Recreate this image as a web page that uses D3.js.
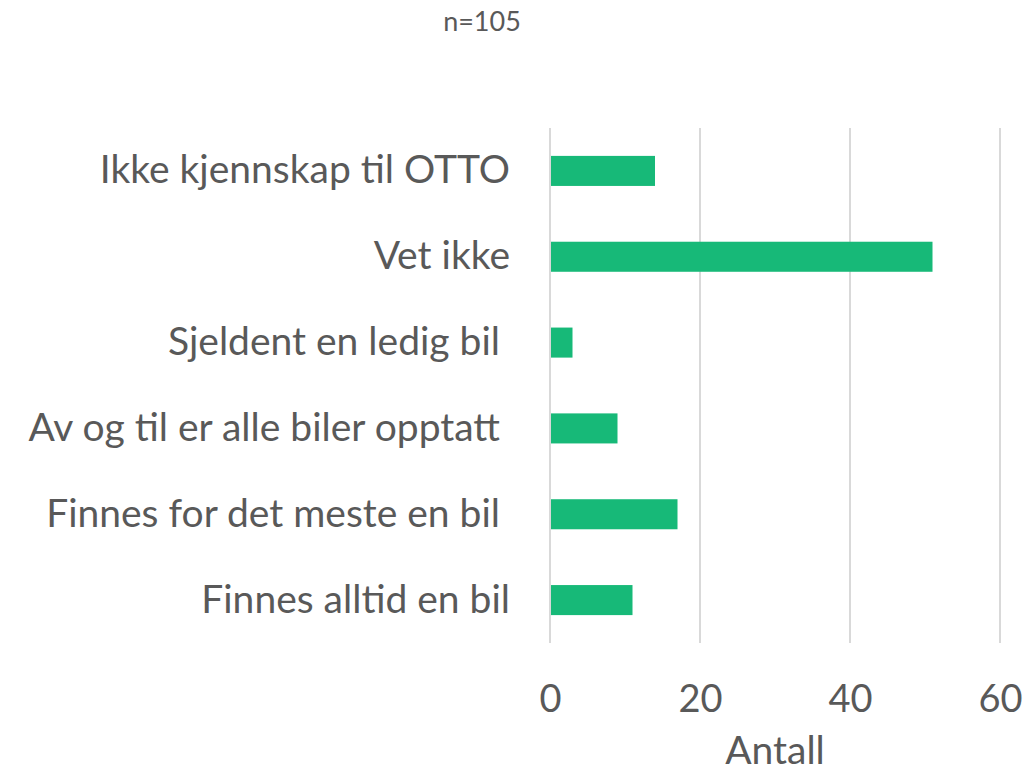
<!DOCTYPE html>
<html>
    <head>
        <title></title>
        <script src="https://d3js.org/d3.v7.min.js"></script>
    </head>

    <body style="margin:0">
        <svg id="chart" width="1028" height="775"></svg>
    </body>

    <script>

        // data
        var categories = ["Ikke kjennskap til OTTO", "Vet ikke", "Sjeldent en ledig bil ", "Av og til er alle biler opptatt ", "Finnes for det meste en bil ", "Finnes alltid en bil"]
        var values = [14, 51, 3, 9, 17, 11]
        var xTicks = [0, 20, 40, 60]

        var margin = { top: 128, left: 550, right: 28, bottom: 132 }
        var width = 1028 - margin.left - margin.right
        var height = 775 - margin.top - margin.bottom
        var textColor = "#595959"
        var font = "Lato, 'Open Sans', sans-serif"

        var svg = d3.select("#chart")
        svg.append("rect").attr("width", 1028).attr("height", 775).attr("fill", "#fff")

        var g = svg.append("g")
        .attr("transform", "translate(" + margin.left + "," + margin.top + ")")

        var x = d3.scaleLinear()
        .domain([0, 60])
        .range([0, width])

        var y = d3.scaleBand()
        .domain(categories)
        .range([0, height])
        .paddingInner(0.65)
        .paddingOuter(0.325)

        // vertical gridlines
        g.selectAll(".grid")
        .data(xTicks)
        .enter()
        .append("line")
        .attr("x1", function(d) { return x(d) })
        .attr("x2", function(d) { return x(d) })
        .attr("y1", 0)
        .attr("y2", height)
        .attr("stroke", "#d9d9d9")
        .attr("stroke-width", 2)

        // bars
        g.selectAll(".bar")
        .data(values)
        .enter()
        .append("rect")
        .attr("x", x(0) + 1)
        .attr("y", function(d, i) { return y(categories[i]) })
        .attr("width", function(d) { return x(d) - x(0) - 1 })
        .attr("height", y.bandwidth())
        .attr("fill", "#17b978")

        // category labels
        var yAxis = g.append("g")
        .attr("transform", "translate(-40,0)")
        .call(d3.axisLeft(y).tickSize(0).tickPadding(0))
        yAxis.select(".domain").remove()
        yAxis.selectAll("text")
        .attr("fill", textColor)
        .attr("font-family", font)
        .attr("font-size", 39)
        .style("white-space", "pre")

        // x axis ticks
        var xAxis = g.append("g")
        .attr("transform", "translate(0," + height + ")")
        .call(d3.axisBottom(x).tickValues(xTicks).tickSize(0).tickPadding(42))
        xAxis.select(".domain").remove()
        xAxis.selectAll("text")
        .attr("fill", textColor)
        .attr("font-family", font)
        .attr("font-size", 38)

        // axis title
        svg.append("text")
        .attr("x", margin.left + width / 2)
        .attr("y", 764)
        .attr("text-anchor", "middle")
        .attr("fill", textColor)
        .attr("font-family", font)
        .attr("font-size", 39)
        .text("Antall")

        // subtitle
        svg.append("text")
        .attr("x", 482)
        .attr("y", 31)
        .attr("text-anchor", "middle")
        .attr("fill", textColor)
        .attr("font-family", font)
        .attr("font-size", 27)
        .text("n=105")
    </script>
</html>
